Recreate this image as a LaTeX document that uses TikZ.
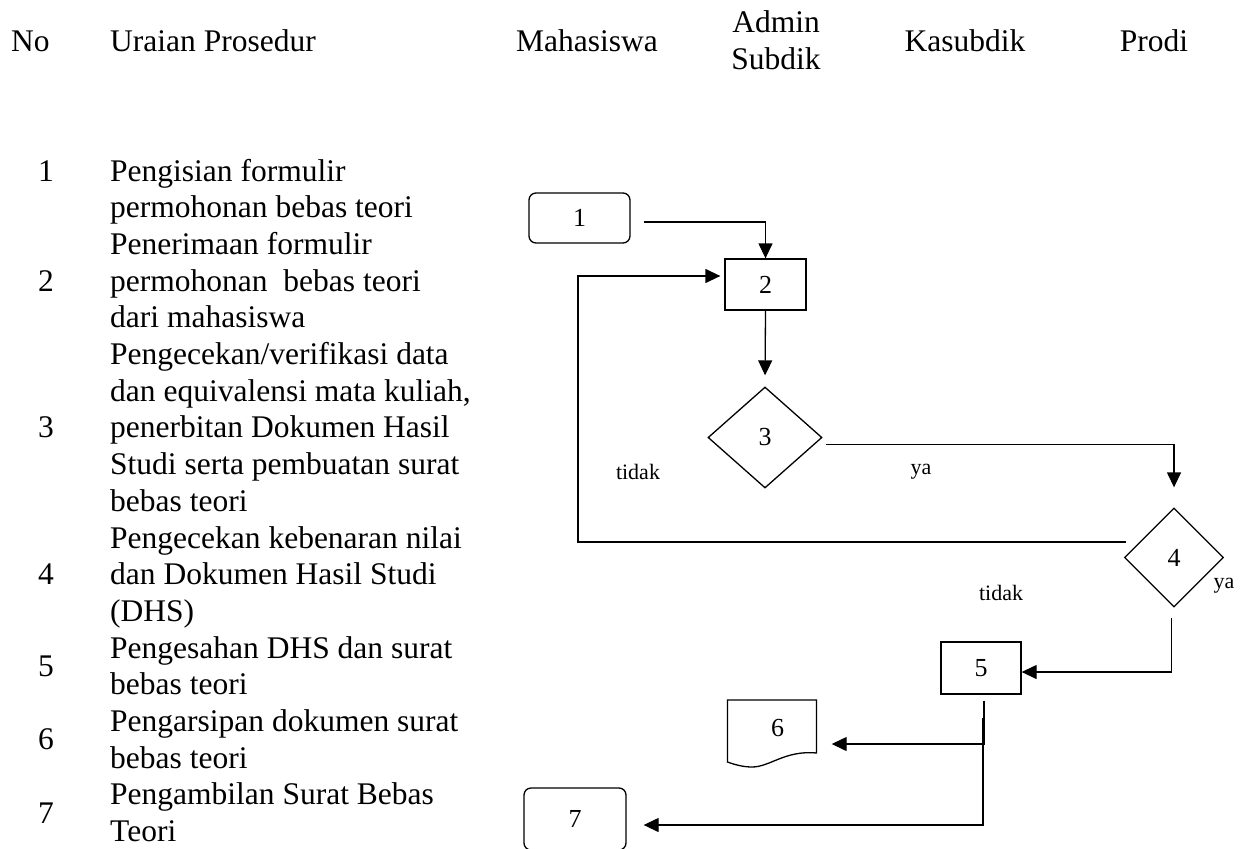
\documentclass[tikz,border=0pt]{standalone}
\usepackage{fontspec}
\setmainfont{Liberation Serif}
\usetikzlibrary{shapes.geometric,arrows.meta,calc}
\tikzset{
  body/.style={inner sep=0pt,font=\fontsize{31.5}{36.7}\selectfont,anchor=base west},
  num/.style={inner sep=0pt,font=\fontsize{31.5}{36.7}\selectfont,anchor=base},
  head/.style={inner sep=0pt,font=\fontsize{31.5}{36.7}\selectfont,anchor=base},
  lbl/.style={inner sep=0pt,font=\fontsize{22}{26}\selectfont},
  flow/.style={draw,line width=1.3pt,inner sep=0pt,font=\fontsize{26}{30}\selectfont},
  term/.style={flow,rounded corners=7pt},
  proc/.style={flow},
  dec/.style={flow,diamond},
  arr/.style={line width=1.3pt,-{Triangle[length=15pt,width=14pt]}},
}
\begin{document}
\begin{tikzpicture}[x=1pt,y=-1pt]
\useasboundingbox (0,0) rectangle (1246,848);
% header
\node[body] (hNo) at (11,52) {No};
\node[body] (hUr) at (110,52) {Uraian Prosedur};
\node[head] (hMa) at (587,52) {Mahasiswa};
\node[head] (hAd1) at (776,33) {Admin};
\node[head] (hAd2) at (776,70) {Subdik};
\node[head] (hKa) at (965,52) {Kasubdik};
\node[head] (hPr) at (1154,52) {Prodi};
% numbers
\node[num] (k1) at (46,181) {1};
\node[num] (k2) at (46,291.1) {2};
\node[num] (k3) at (46,437.9) {3};
\node[num] (k4) at (46,584.7) {4};
\node[num] (k5) at (46,676.5) {5};
\node[num] (k6) at (46,749.9) {6};
\node[num] (k7) at (46,823.3) {7};
% description lines
\node[body] (t0) at (110,181) {Pengisian formulir};
\node[body] (t1) at (110,217.7) {permohonan bebas teori};
\node[body] (t2) at (110,254.4) {Penerimaan formulir};
\node[body] (t3) at (110,291.1) {permohonan\ \ bebas teori};
\node[body] (t4) at (110,327.8) {dari mahasiswa};
\node[body] (t5) at (110,364.5) {Pengecekan/verifikasi data};
\node[body] (t6) at (110,401.2) {dan equivalensi mata kuliah,};
\node[body] (t7) at (110,437.9) {penerbitan Dokumen Hasil};
\node[body] (t8) at (110,474.6) {Studi serta pembuatan surat};
\node[body] (t9) at (110,511.3) {bebas teori};
\node[body] (t10) at (110,548) {Pengecekan kebenaran nilai};
\node[body] (t11) at (110,584.7) {dan Dokumen Hasil Studi};
\node[body] (t12) at (110,621.4) {(DHS)};
\node[body] (t13) at (110,658.1) {Pengesahan DHS dan surat};
\node[body] (t14) at (110,694.8) {bebas teori};
\node[body] (t15) at (110,731.5) {Pengarsipan dokumen surat};
\node[body] (t16) at (110,768.2) {bebas teori};
\node[body] (t17) at (110,804.9) {Pengambilan Surat Bebas};
\node[body] (t18) at (110,841.6) {Teori};
% flow shapes
\node[term,minimum width=101,minimum height=50] (n1) at (579.5,218) {1};
\node[proc,minimum width=81,minimum height=51] (n2) at (765.5,284.5) {2};
\node[dec,minimum width=114,minimum height=101] (n3) at (765,437.5) {3};
\node[dec,minimum width=99,minimum height=99] (n4) at (1174,557.5) {4};
\node[proc,minimum width=80,minimum height=52] (n5) at (981,668) {5};
\node[inner sep=0pt,minimum width=89,minimum height=56,font=\fontsize{26}{30}\selectfont] (n6) at (772,728) {\hspace*{11pt}6};
\draw[line width=1.3pt] (727.5,700) -- (816.5,700) -- (816.5,753)
  .. controls (785,750) and (770,767) .. (752,767)
  .. controls (742,767) and (733,764) .. (727.5,762) -- cycle;
\node[term,minimum width=102,minimum height=62] (n7) at (575,819) {7};
% connectors
\draw[arr] ($(n1.east)+(13,4)$) -| (n2.north);
\draw[arr,shorten >=11pt] (n2.south) -- (n3.north);
\draw[arr,shorten >=20pt] ($(n3.east)+(3,7)$) -| (n4.north);
\draw[arr,shorten >=4pt] ($(n4.west)+(2,-15.5)$) -- ++(-548,0) |- ($(n2.west)+(0,-8.5)$);
\draw[arr] ($(n4.south)+(-2.5,10)$) |- ($(n5.east)+(0,4)$);
\draw[arr] ($(n5.south)+(3,6)$) |- ($(n6.east)+(15,16)$);
\draw[arr] ($(n5.south)+(2,23)$) |- ($(n7.east)+(17,6)$);
% labels
\node[lbl] (lt1) at (638,472) {tidak};
\node[lbl] (ly1) at (921,472) {ya};
\node[lbl] (lt2) at (1001,593) {tidak};
\node[lbl] (ly2) at (1224,586) {ya};
\end{tikzpicture}
\end{document}
